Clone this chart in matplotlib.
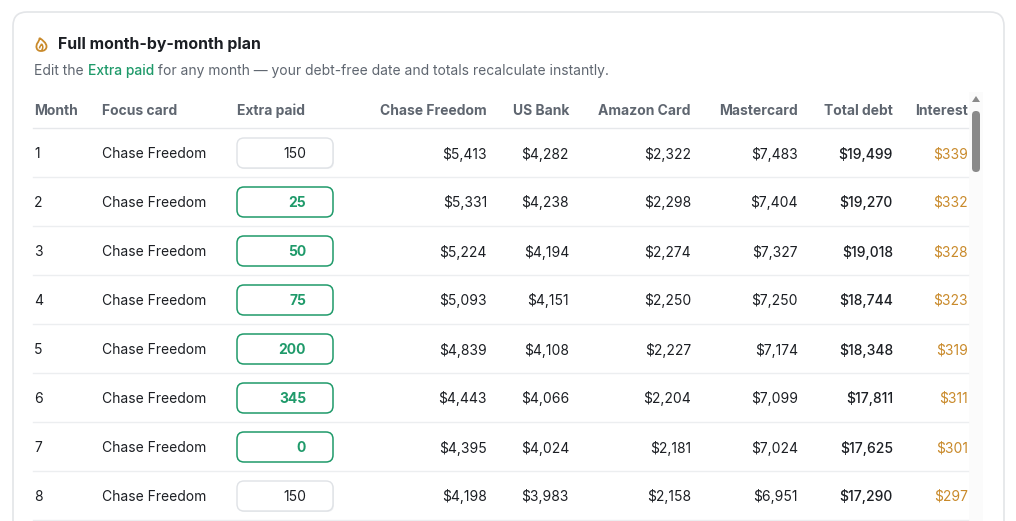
import matplotlib
matplotlib.use("Agg")
import matplotlib.pyplot as plt
from matplotlib.patches import FancyBboxPatch, PathPatch
from matplotlib.path import Path

plt.rcParams["font.family"] = ["Inter", "DejaVu Sans"]

months = [1, 2, 3, 4, 5, 6, 7, 8]
focus = ["Chase Freedom"] * 8
extra = [150, 25, 50, 75, 200, 345, 0, 150]
edited = [False, True, True, True, True, True, True, False]
chase = ["$5,413", "$5,331", "$5,224", "$5,093", "$4,839", "$4,443", "$4,395", "$4,198"]
usbank = ["$4,282", "$4,238", "$4,194", "$4,151", "$4,108", "$4,066", "$4,024", "$3,983"]
amazon = ["$2,322", "$2,298", "$2,274", "$2,250", "$2,227", "$2,204", "$2,181", "$2,158"]
master = ["$7,483", "$7,404", "$7,327", "$7,250", "$7,174", "$7,099", "$7,024", "$6,951"]
total = ["$19,499", "$19,270", "$19,018", "$18,744", "$18,348", "$17,811", "$17,625", "$17,290"]
interest = ["$339", "$332", "$328", "$323", "$319", "$311", "$301", "$297"]
headers = ["Month", "Focus card", "Extra paid", "Chase Freedom", "US Bank",
           "Amazon Card", "Mastercard", "Total debt", "Interest"]

GREEN = "#1f9a6a"
ORANGE = "#c98a2b"
DARK = "#1c1f24"
GRAY = "#5f6670"
FS = 10

fig = plt.figure(figsize=(10.16, 5.21), dpi=100)
ax = fig.add_axes([0, 0, 1, 1])
ax.set_xlim(0, 1016)
ax.set_ylim(521, 0)
ax.axis("off")

# card
ax.add_patch(FancyBboxPatch((13, 12), 991, 560, boxstyle="round,pad=0,rounding_size=14",
                            fc="white", ec="#e3e5e8", lw=1.2))

# flame icon (outline)
C = Path.CURVE4
flame = Path([(41, 51), (36, 51), (35.5, 46), (37.5, 43), (38.5, 41.5), (39.5, 40), (39.5, 38),
              (42.5, 40), (46.5, 43), (46.5, 46.5), (46.5, 49.5), (44, 51), (41, 51)],
             [Path.MOVETO, C, C, C, C, C, C, C, C, C, C, C, C])
ax.add_patch(PathPatch(flame, fc="none", ec=ORANGE, lw=1.3))
inner = Path([(39.5, 48.5), (39.5, 46.5), (41, 45.5), (41.5, 44), (43, 45.5), (43.5, 48), (41.5, 50.5)],
             [Path.MOVETO, C, C, C, C, C, C])
ax.add_patch(PathPatch(inner, fc="none", ec=ORANGE, lw=1.1))

ax.text(58, 45, "Full month-by-month plan", color=DARK, fontsize=11.4,
        fontweight="bold", va="center")
parts = [("Edit the ", GRAY), ("Extra paid", GREEN),
         (" for any month \u2014 your debt-free date and totals recalculate instantly.", GRAY)]
x = 34
for s, c in parts:
    t = ax.text(x, 71, s, color=c, fontsize=10, va="center",
                fontweight="medium" if c == GREEN else "normal")
    fig.canvas.draw()
    x += t.get_window_extent().width

# headers
hx = [(34, "left"), (102, "left"), (237, "left"), (487, "right"), (569, "right"),
      (691, "right"), (798, "right"), (893, "right"), (968, "right")]
for (xx, ha), h in zip(hx, headers):
    ax.text(xx, 111, h, color=GRAY, fontsize=FS, fontweight="bold", ha=ha,
            va="center")
ax.plot([33, 968], [128, 128], color="#e6e8eb", lw=1)

for i in range(len(months)):
    y = 154 + 49 * i
    ax.text(34, y, str(months[i]), color=DARK, fontsize=FS, va="center")
    ax.text(102, y, focus[i], color=DARK, fontsize=FS, va="center")
    if edited[i]:
        ax.add_patch(FancyBboxPatch((237, y - 16), 96, 30,
                                    boxstyle="round,pad=0,rounding_size=7",
                                    fc="white", ec=GREEN, lw=1.1))
        ax.text(306, y, str(extra[i]), color=GREEN, fontsize=FS,
                fontweight="bold", ha="right", va="center")
    else:
        ax.add_patch(FancyBboxPatch((238, y - 15), 96, 30,
                                    boxstyle="round,pad=0,rounding_size=7",
                                    fc="#eef0f2", ec="none"))
        ax.add_patch(FancyBboxPatch((237, y - 16), 96, 30,
                                    boxstyle="round,pad=0,rounding_size=7",
                                    fc="white", ec="#dfe2e6", lw=1.0))
        ax.text(306, y, str(extra[i]), color=DARK, fontsize=FS,
                ha="right", va="center")
    for xx, col in [(487, chase), (569, usbank), (691, amazon), (798, master)]:
        ax.text(xx, y, col[i], color=DARK, fontsize=FS, ha="right", va="center")
    ax.text(893, y, total[i], color=DARK, fontsize=FS, fontweight="medium",
            ha="right", va="center")
    ax.text(968, y, interest[i], color=ORANGE, fontsize=FS, ha="right", va="center")
    ax.plot([33, 968], [y + 23, y + 23], color="#eceef0", lw=1)

# scrollbar
ax.add_patch(plt.Rectangle((969, 92), 14, 440, fc="#fbfbfb", ec="none"))
ax.add_patch(FancyBboxPatch((972, 111), 8, 61, boxstyle="round,pad=0,rounding_size=4",
                            fc="#8a8a8a", ec="none"))
ax.add_patch(plt.Polygon([[972, 102], [980, 102], [976, 96]], fc="#8a8a8a", ec="none"))

fig.savefig("out.png", dpi=100)
